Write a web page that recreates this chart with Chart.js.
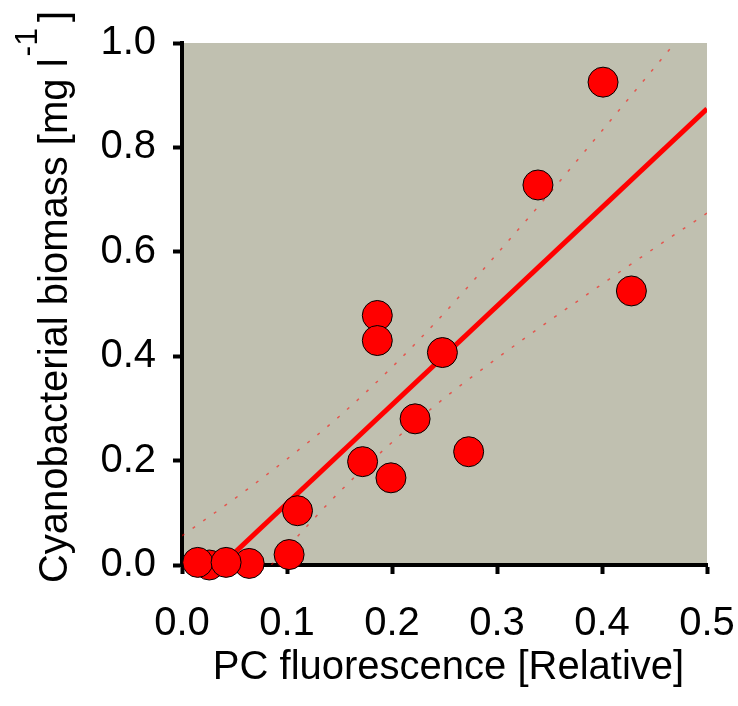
<!DOCTYPE html>
<html>
<head>
<meta charset="utf-8">
<title>Cyanobacterial biomass vs PC fluorescence</title>
<script src="https://cdn.jsdelivr.net/npm/chart.js@4.4.1/dist/chart.umd.min.js"></script>
<style>
  body { margin: 0; background: #fff; }
</style>
</head>
<body>
<canvas id="scatter" width="738" height="706"></canvas>
<script>
/* measured samples */
var pcFluor = [0.026, 0.064, 0.015, 0.042, 0.102, 0.110, 0.172, 0.199, 0.222, 0.273, 0.186, 0.186, 0.248, 0.339, 0.401, 0.428];
var biomass = [0.000, 0.003, 0.005, 0.005, 0.020, 0.104, 0.198, 0.167, 0.280, 0.217, 0.478, 0.430, 0.407, 0.728, 0.925, 0.525];

/* regression line */
var fitX = [0.0376, 0.5];
var fitY = [0.0, 0.874];

/* confidence band */
var upperX = [0, 0.05, 0.1, 0.15, 0.2, 0.25, 0.3, 0.35, 0.4, 0.45, 0.5];
var upperY = [0.056, 0.127, 0.203, 0.285, 0.379, 0.483, 0.596, 0.712, 0.832, 0.953, 1.074];
var lowerX = [0.085, 0.1, 0.15, 0.2, 0.25, 0.3, 0.35, 0.4, 0.45, 0.5];
var lowerY = [0.0, 0.033, 0.140, 0.235, 0.320, 0.396, 0.468, 0.538, 0.607, 0.674];

var xTicks = [0, 0.1, 0.2, 0.3, 0.4, 0.5];
var yTicks = [0, 0.2, 0.4, 0.6, 0.8, 1.0];

var FONT = '"Liberation Sans", Arial, Helvetica, sans-serif';

const toPoints = (xs, ys) => xs.map((x, i) => ({ x: x, y: ys[i] }));

const plotBg = {
  id: 'plotBg',
  beforeDraw(chart) {
    const { ctx, chartArea: a } = chart;
    ctx.save();
    ctx.fillStyle = '#c0c0b0';
    ctx.fillRect(a.left, a.top, a.right - a.left, a.bottom - a.top);
    ctx.restore();
  }
};

// axis titles, the y one needs a superscript
const axisTitles = {
  id: 'axisTitles',
  afterDraw(chart) {
    const { ctx, chartArea: a } = chart;
    const mainFont = '40px ' + FONT;
    const supFont = '32px ' + FONT;
    ctx.save();
    ctx.fillStyle = '#000';
    ctx.font = mainFont;
    ctx.textAlign = 'center';
    ctx.textBaseline = 'alphabetic';
    ctx.fillText('PC fluorescence [Relative]', (a.left + a.right) / 2 + 4, 679);

    ctx.translate(67, 297);
    ctx.rotate(-Math.PI / 2);
    ctx.textAlign = 'left';
    const main = 'Cyanobacterial biomass [mg l';
    const sup = '-1';
    const close = ']';
    ctx.font = mainFont;
    const w1 = ctx.measureText(main).width;
    const w3 = ctx.measureText(close).width;
    ctx.font = supFont;
    const w2 = ctx.measureText(sup).width;
    let x = -(w1 + 2 + w2 + 6 + w3) / 2;
    ctx.font = mainFont;
    ctx.fillText(main, x, 0);
    x += w1 + 2;
    ctx.font = supFont;
    ctx.fillText(sup, x, -30);
    x += w2 + 6;
    ctx.font = mainFont;
    ctx.fillText(close, x, 0);
    ctx.restore();
  }
};

const axisStyle = (ticks, size, pad) => ({
  type: 'linear',
  min: ticks[0],
  max: ticks[ticks.length - 1],
  afterBuildTicks: (s) => { s.ticks = ticks.map((v) => ({ value: v })); },
  border: { display: true, color: '#000', width: 4 },
  grid: { drawOnChartArea: false, drawTicks: true, tickLength: 9, tickWidth: 4, tickColor: '#000' },
  ticks: {
    color: '#000',
    padding: pad,
    maxRotation: 0,
    font: { family: FONT, size: size },
    callback: (v) => Number(v).toFixed(1)
  }
});

// fixed axis boxes so the plot area lands at 182..707 x 43..565
const xAxis = axisStyle(xTicks, 40, 26);
xAxis.afterFit = (s) => {
  s.height = 141;
  s.paddingLeft = 0;
  s.paddingRight = 0;
};
const yAxis = axisStyle(yTicks, 40, 17);
yAxis.afterFit = (s) => {
  s.width = 182;
  s.paddingTop = 0;
  s.paddingBottom = 0;
};

new Chart(document.getElementById('scatter'), {
  type: 'scatter',
  data: {
    datasets: [
      {
        data: toPoints(pcFluor, biomass),
        backgroundColor: '#ff0000',
        borderColor: '#000',
        borderWidth: 1,
        pointRadius: 15,
        pointHoverRadius: 15,
        clip: false,
        order: 0
      },
      {
        data: toPoints(fitX, fitY),
        showLine: true,
        borderColor: '#ff0000',
        borderWidth: 5,
        pointRadius: 0,
        order: 1
      },
      {
        data: toPoints(upperX, upperY),
        showLine: true,
        cubicInterpolationMode: 'monotone',
        borderColor: 'rgba(255, 0, 0, 0.55)',
        borderWidth: 1.5,
        borderDash: [3, 10],
        pointRadius: 0,
        order: 2
      },
      {
        data: toPoints(lowerX, lowerY),
        showLine: true,
        cubicInterpolationMode: 'monotone',
        borderColor: 'rgba(255, 0, 0, 0.55)',
        borderWidth: 1.5,
        borderDash: [3, 10],
        pointRadius: 0,
        order: 2
      }
    ]
  },
  options: {
    responsive: false,
    animation: false,
    layout: { padding: { top: 43, right: 31, left: 0, bottom: 0 } },
    plugins: { legend: { display: false }, tooltip: { enabled: false } },
    scales: { x: xAxis, y: yAxis }
  },
  plugins: [plotBg, axisTitles]
});
</script>
</body>
</html>
